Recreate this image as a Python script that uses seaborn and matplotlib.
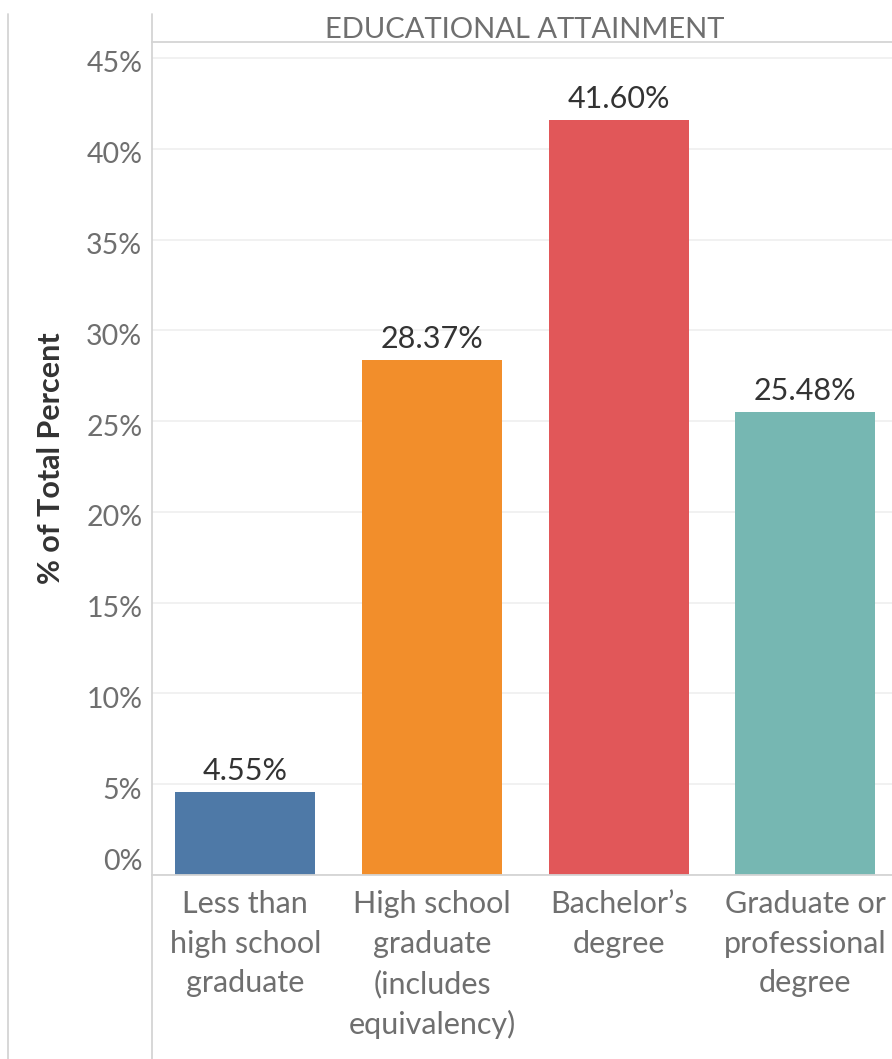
import matplotlib
matplotlib.use("Agg")
import matplotlib.pyplot as plt
import matplotlib.transforms as mtransforms
from matplotlib.lines import Line2D
from matplotlib.ticker import FuncFormatter, FixedLocator
import seaborn as sns

categories = [
    "Less than\nhigh school\ngraduate",
    "High school\ngraduate\n(includes\nequivalency)",
    "Bachelor\u2019s\ndegree",
    "Graduate or\nprofessional\ndegree",
]
values = [4.55, 28.37, 41.60, 25.48]
bar_labels = ["4.55%", "28.37%", "41.60%", "25.48%"]
colors = ["#4e79a7", "#f28e2b", "#e15759", "#76b7b2"]
yticks = [0, 5, 10, 15, 20, 25, 30, 35, 40, 45]
title = "EDUCATIONAL ATTAINMENT"
ylabel = "% of Total Percent"

sns.set_theme(style="white")
FONT = "Lato"
plt.rcParams["font.family"] = [FONT, "DejaVu Sans"]

W, H = 892, 1059
fig = plt.figure(figsize=(W / 100, H / 100), dpi=100)
ax = fig.add_axes([152 / W, 1 - 875 / H, 740 / W, (875 - 42) / H])

sns.barplot(x=categories, y=values, hue=categories, palette=colors,
            legend=False, width=0.75, saturation=1, ax=ax, linewidth=0)

ax.set_xlim(-0.5, -0.5 + 740 / 186.67)
ax.set_ylim(0, 45.88)

gray_text = "#6f6f6f"
line_col = "#d4d4d4"

ax.yaxis.set_major_locator(FixedLocator(yticks))
ax.yaxis.set_major_formatter(FuncFormatter(lambda v, p: f"{v:.0f}%"))
ax.grid(axis="y", color="#efefef", linewidth=1.2)
ax.grid(axis="x", visible=False)
ax.set_axisbelow(True)

ax.tick_params(axis="y", length=5, width=1, color="#efefef", pad=2,
               labelsize=20.5, labelcolor=gray_text)
ax.tick_params(axis="x", which="major", length=0, pad=11,
               labelsize=22, labelcolor=gray_text)
ax.set_xticks([-0.5 + i for i in range(1, 4)], minor=True)
ax.tick_params(axis="x", which="minor", length=5, width=1, color=line_col)

for lbl in ax.get_xticklabels():
    lbl.set_linespacing(1.5)

for v, lbl in zip(yticks, ax.get_yticklabels()):
    dy = 16 / 100 if v == 0 else -4 / 100
    lbl.set_transform(lbl.get_transform() + mtransforms.ScaledTranslation(0, dy, fig.dpi_scale_trans))

for s in ["left", "right"]:
    ax.spines[s].set_visible(False)
ax.spines["top"].set_color(line_col)
ax.spines["top"].set_linewidth(1.3)
ax.spines["bottom"].set_color(line_col)
ax.spines["bottom"].set_linewidth(1.3)

ax.set_xlabel("")
ax.set_ylabel(ylabel, fontsize=22, fontweight="bold", color="#333333")
ax.yaxis.set_label_coords(-0.118, 0.5)

labels_iter = iter(bar_labels)
for cont in ax.containers:
    labs = [next(labels_iter) for _ in cont]
    ax.bar_label(cont, labels=labs, padding=5, fontsize=22, color="#333333")

fig.text(525 / W, 1 - 30 / H, title, ha="center", va="center",
         fontsize=21, color=gray_text)

fig.add_artist(Line2D([8 / W, 8 / W], [0, 1 - 14 / H], transform=fig.transFigure,
                      color=line_col, linewidth=1.3))
fig.add_artist(Line2D([152 / W, 152 / W], [0, 1 - 14 / H], transform=fig.transFigure,
                      color=line_col, linewidth=1.3))

fig.savefig("out.png", dpi=100)
